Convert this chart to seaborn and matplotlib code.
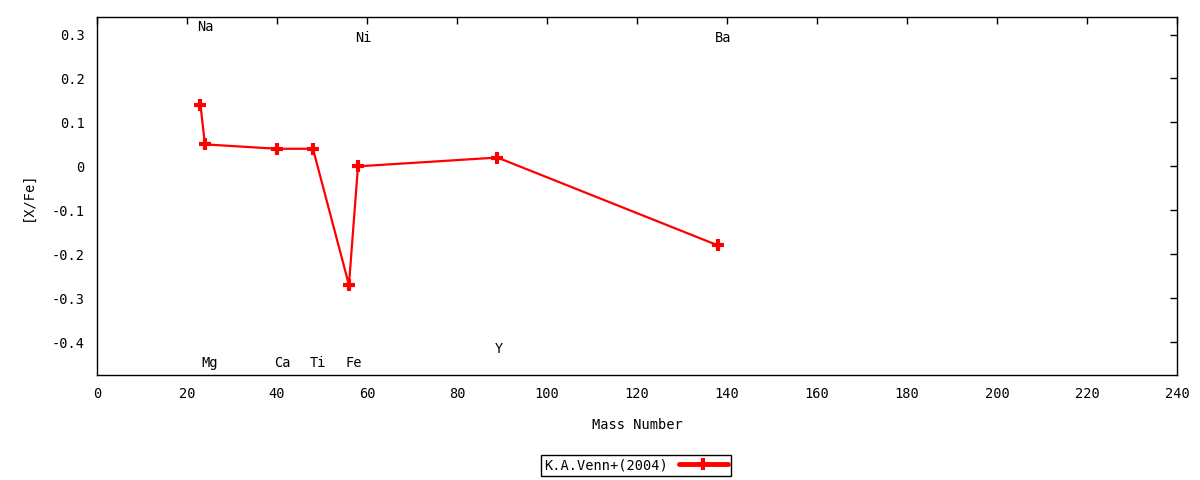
import matplotlib
matplotlib.use("Agg")
import matplotlib.pyplot as plt
import seaborn as sns
import pandas as pd

# Abundancias [X/Fe] (K.A.Venn+ 2004)
elements = ["Na", "Mg", "Ca", "Ti", "Fe", "Ni", "Y", "Ba"]
mass_number = [23, 24, 40, 48, 56, 58, 89, 138]
x_fe = [0.14, 0.05, 0.04, 0.04, -0.27, 0.00, 0.02, -0.18]
label_y = [0.318, -0.447, -0.447, -0.447, -0.447, 0.293, -0.415, 0.293]

sns.set_style("white")
plt.rcParams['font.family'] = ['DejaVu Sans Mono']
plt.rcParams['font.size'] = 9.8
plt.rcParams['text.color'] = 'black'
plt.rcParams['axes.labelcolor'] = 'black'
plt.rcParams['xtick.color'] = 'black'
plt.rcParams['ytick.color'] = 'black'

df = pd.DataFrame({"Mass Number": mass_number, "[X/Fe]": x_fe})

fig = plt.figure(figsize=(12, 4.8), dpi=100)
ax = fig.add_axes([0.0808, 0.2188, 0.9, 0.7458])

sns.lineplot(data=df, x="Mass Number", y="[X/Fe]", ax=ax, color="red",
             linewidth=1.6, marker="+", markersize=9, markeredgewidth=3,
             markeredgecolor="red", label="K.A.Venn+(2004)")

# rotulos dos elementos
for el, m, ly in zip(elements, mass_number, label_y):
    ax.text(m - 0.7, ly, el, ha="left", va="center")

ax.set_xlim(0, 240)
ax.set_ylim(-0.475, 0.34)
ax.set_xticks(range(0, 241, 20))
ax.set_yticks([-0.4, -0.3, -0.2, -0.1, 0, 0.1, 0.2, 0.3])
ax.set_yticklabels(["-0.4", "-0.3", "-0.2", "-0.1", "0", "0.1", "0.2", "0.3"])
ax.tick_params(direction="in", top=True, right=True, length=5, width=1,
               pad=9)
for s in ax.spines.values():
    s.set_color("black")
    s.set_linewidth(1)
ax.set_xlabel("Mass Number", labelpad=12)
ax.set_ylabel("[X/Fe]", labelpad=12)

leg = ax.legend(loc="center", bbox_to_anchor=(0.53, 0.031),
                bbox_transform=fig.transFigure, markerfirst=False,
                fancybox=False, framealpha=1, edgecolor="black",
                handlelength=3.6, borderpad=0.25, borderaxespad=0)
leg.get_frame().set_linewidth(1)
for h in leg.get_lines():
    h.set_linewidth(3.5)

fig.savefig("out.png", dpi=100)
